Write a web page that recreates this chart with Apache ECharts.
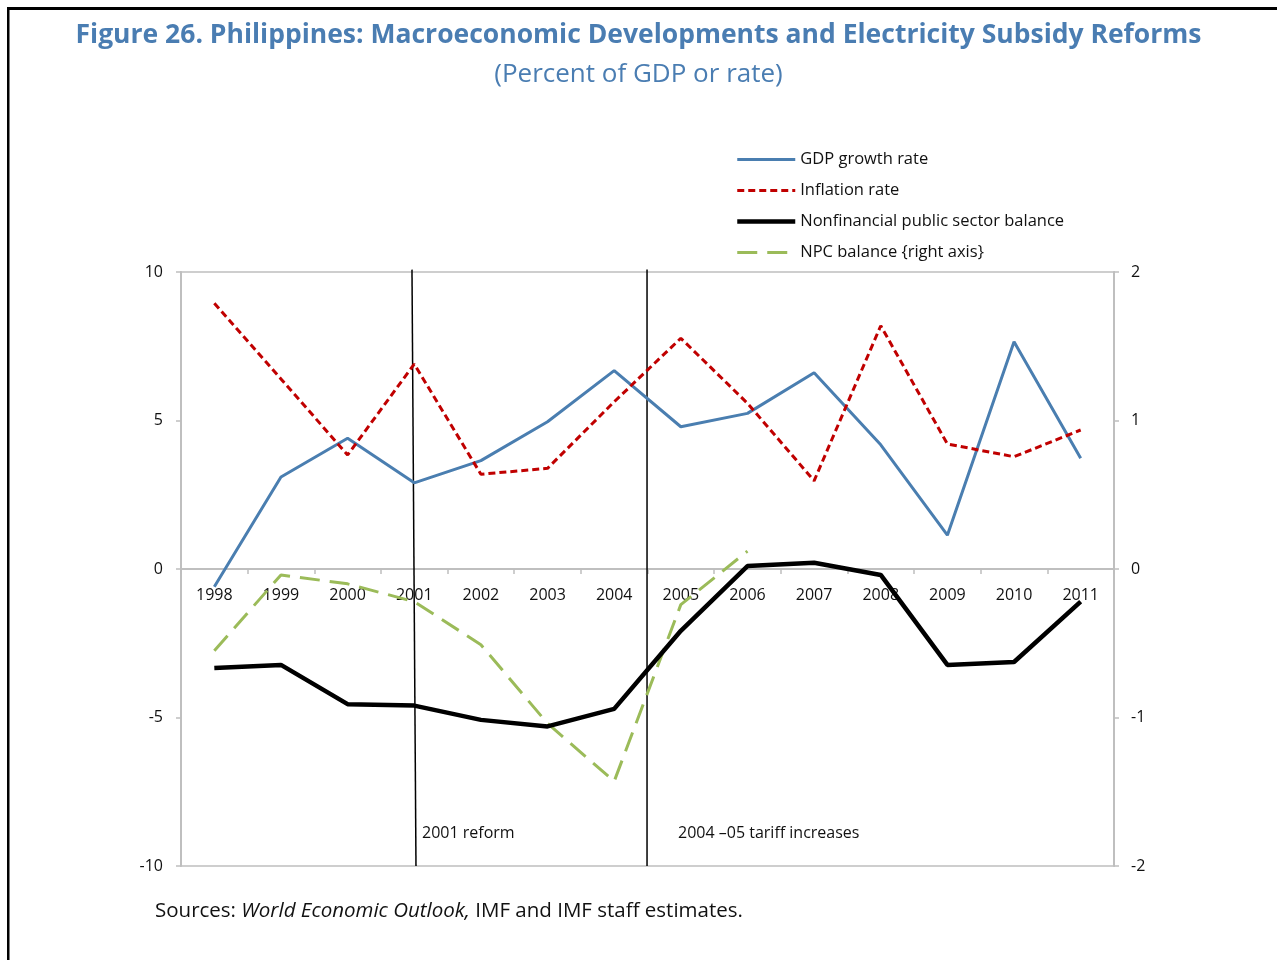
<!DOCTYPE html>
<html>
<head>
<meta charset="utf-8">
<script src="https://cdn.jsdelivr.net/npm/echarts@6/dist/echarts.min.js"></script>
<style>
	html, body { margin: 0; padding: 0; background: #fff; }
	#show { width: 1277px; height: 960px; }
</style>
</head>
<body>
<div id="show"></div>
<script>
	var myEchart = echarts.init(document.getElementById("show"));

	// 年份
	var years = ['1998', '1999', '2000', '2001', '2002', '2003', '2004', '2005', '2006', '2007', '2008', '2009', '2010', '2011'];

	// 左轴数据
	var gdpGrowth = [-0.6, 3.1, 4.4, 2.9, 3.65, 4.96, 6.68, 4.79, 5.24, 6.61, 4.18, 1.14, 7.65, 3.73];
	var inflation = [8.95, 6.4, 3.84, 6.9, 3.19, 3.39, 5.63, 7.77, 5.58, 2.97, 8.19, 4.21, 3.78, 4.68];
	var nfpsBalance = [-3.33, -3.23, -4.55, -4.6, -5.08, -5.3, -4.71, -2.08, 0.1, 0.21, -0.2, -3.23, -3.13, -1.1];

	// 右轴数据
	var npcBalance = [-0.55, -0.04, -0.1, -0.22, -0.51, -1.04, -1.43, -0.24, 0.12, null, null, null, null, null];

	// 竖线位置 (年份序号, 上端 / 下端)
	var reformLines = [
		[2.966, 3.026],
		[6.493, 6.493]
	];

	var seriesNames = ['GDP growth rate', 'Inflation rate', 'Nonfinancial public sector balance', 'NPC balance {right axis}'];

	var leftTicks = { min: -10, max: 10, interval: 5 };
	var rightTicks = { min: -2, max: 2, interval: 1 };

	var font = 'Open Sans';
	var gray = '#bfbfbf';
	var blue = '#4a7db2';

	var option = {
		backgroundColor: '#fff',
		animation: false,
		textStyle: { fontFamily: font },
		title: [{
			text: 'Figure 26. Philippines: Macroeconomic Developments and Electricity Subsidy Reforms',
			left: 'center',
			top: 17,
			textStyle: { color: blue, fontSize: 26.5, fontWeight: 'bold', fontFamily: font }
		}, {
			text: '(Percent of GDP or rate)',
			left: 'center',
			top: 57,
			textStyle: { color: blue, fontSize: 26, fontWeight: 'normal', fontFamily: font }
		}],
		legend: {
			orient: 'vertical',
			left: 735,
			top: 151,
			padding: 0,
			itemWidth: 58,
			itemHeight: 14,
			itemGap: 14,
			itemStyle: { opacity: 0 },
			lineStyle: { width: 'inherit' },
			textStyle: { fontSize: 16.5, color: '#111', fontFamily: font },
			data: seriesNames
		},
		grid: {
			left: 181,
			right: 163,
			top: 272,
			bottom: 94,
			show: true,
			borderColor: gray,
			borderWidth: 1.5,
			backgroundColor: 'transparent'
		},
		xAxis: [{
			type: 'category',
			data: years,
			boundaryGap: true,
			position: 'bottom',
			offset: -297,
			axisLine: { onZero: false, lineStyle: { color: gray, width: 2 } },
			axisTick: { show: true, length: 5, lineStyle: { color: gray, width: 1.5 } },
			axisLabel: { color: '#111', fontSize: 16, margin: 18, fontFamily: font },
			splitLine: { show: false }
		}, {
			type: 'value',
			min: -0.5,
			max: 13.5,
			show: false,
			axisLine: { onZero: false }
		}],
		yAxis: [{
			type: 'value',
			min: leftTicks.min,
			max: leftTicks.max,
			interval: leftTicks.interval,
			axisLine: { show: true, onZero: false, lineStyle: { color: gray, width: 2 } },
			axisTick: { show: true, length: 5, lineStyle: { color: gray, width: 1.5 } },
			axisLabel: { color: '#111', fontSize: 16, margin: 18, fontFamily: font },
			splitLine: { show: false }
		}, {
			type: 'value',
			position: 'right',
			min: rightTicks.min,
			max: rightTicks.max,
			interval: rightTicks.interval,
			axisLine: { show: true, onZero: false, lineStyle: { color: gray, width: 2 } },
			axisTick: { show: true, length: 5, lineStyle: { color: gray, width: 1.5 } },
			axisLabel: { color: '#111', fontSize: 16, margin: 17, fontFamily: font },
			splitLine: { show: false }
		}],
		series: [{
			name: 'reform lines',
			type: 'custom',
			xAxisIndex: 1,
			yAxisIndex: 0,
			silent: true,
			data: reformLines,
			renderItem: function (params, api) {
				var p0 = api.coord([api.value(0), leftTicks.max + 0.08]);
				var p1 = api.coord([api.value(1), leftTicks.min]);
				return {
					type: 'line',
					shape: { x1: p0[0], y1: p0[1], x2: p1[0], y2: p1[1] },
					style: { stroke: '#000', lineWidth: 1.5 }
				};
			},
			z: 1
		}, {
			name: seriesNames[0],
			type: 'line',
			data: gdpGrowth,
			symbol: 'none',
			lineStyle: { color: '#4a7eb0', width: 3 },
			itemStyle: { color: '#4a7eb0' },
			z: 3
		}, {
			name: seriesNames[1],
			type: 'line',
			data: inflation,
			symbol: 'none',
			lineStyle: { color: '#c00000', width: 3, type: [7, 4] },
			itemStyle: { color: '#c00000' },
			z: 4
		}, {
			name: seriesNames[2],
			type: 'line',
			data: nfpsBalance,
			symbol: 'none',
			lineStyle: { color: '#000', width: 4.5 },
			itemStyle: { color: '#000' },
			z: 3
		}, {
			name: seriesNames[3],
			type: 'line',
			yAxisIndex: 1,
			data: npcBalance,
			symbol: 'none',
			connectNulls: false,
			lineStyle: { color: '#9bbb59', width: 3, type: [20, 10] },
			itemStyle: { color: '#9bbb59' },
			z: 2
		}],
		graphic: [{
			type: 'rect',
			z: 100,
			shape: { x: 7, y: 7, width: 1270, height: 3 },
			style: { fill: '#000' },
			silent: true
		}, {
			type: 'rect',
			z: 100,
			shape: { x: 7, y: 7, width: 2.5, height: 953 },
			style: { fill: '#000' },
			silent: true
		}, {
			type: 'text',
			left: 422,
			top: 825,
			style: { text: '2001 reform', fontSize: 16, fill: '#111', fontFamily: font }
		}, {
			type: 'text',
			left: 678,
			top: 825,
			style: { text: '2004 \u201305 tariff increases', fontSize: 16, fill: '#111', fontFamily: font }
		}, {
			type: 'text',
			left: 155,
			top: 901,
			style: {
				text: '{n|Sources: }{i|World Economic Outlook,}{n| IMF and IMF staff estimates.}',
				rich: {
					n: { fontSize: 20.5, fill: '#111', fontFamily: font },
					i: { fontSize: 20.5, fill: '#111', fontStyle: 'italic', fontFamily: font }
				}
			}
		}]
	};

	myEchart.setOption(option);
</script>
</body>
</html>
